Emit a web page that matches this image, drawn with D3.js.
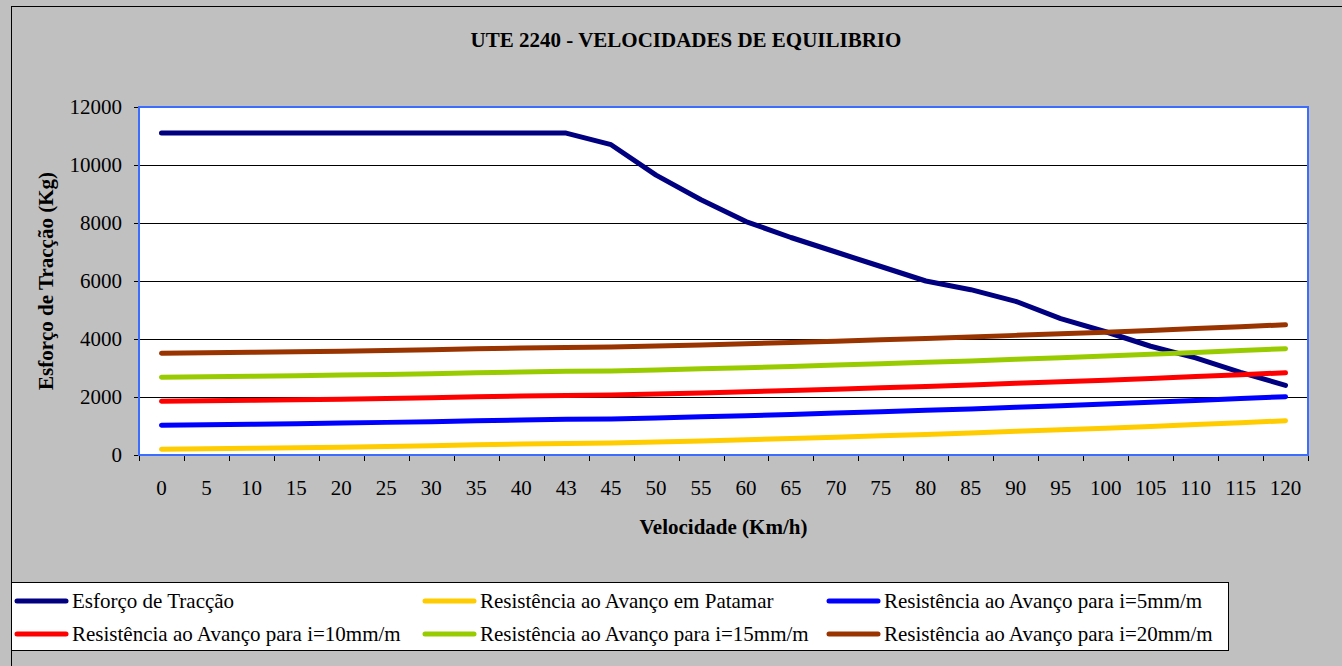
<!DOCTYPE html>
<html>
<head>
<meta charset="utf-8">
<script src="https://cdn.jsdelivr.net/npm/d3@7"></script>
<style>
  html, body { margin: 0; padding: 0; background: #c0c0c0; }
  svg { display: block; }
</style>
</head>
<body>
<svg id="chart" width="1342" height="666"></svg>
<script>
var TITLE = 'UTE 2240 - VELOCIDADES DE EQUILIBRIO';
var X_LABEL = 'Velocidade (Km/h)';
var Y_LABEL = 'Esforço de Tracção (Kg)';
var FONT = '"Liberation Serif", "Times New Roman", Times, "DejaVu Serif", serif';

var SPEEDS = ['0', '5', '10', '15', '20', '25', '30', '35', '40', '43', '45', '50', '55',
  '60', '65', '70', '75', '80', '85', '90', '95', '100', '105', '110', '115', '120'];
var Y_TICKS = [0, 2000, 4000, 6000, 8000, 10000, 12000];

var ESFORCO = [11100, 11100, 11100, 11100, 11100, 11100, 11100, 11100, 11100, 11100,
  10700, 9650, 8800, 8050, 7500, 7000, 6500, 6000, 5700, 5300, 4700, 4250, 3750, 3350, 2850, 2400];
var PATAMAR = [200, 215, 230, 250, 270, 295, 320, 350, 380, 400, 415, 450, 485,
  525, 570, 615, 660, 710, 760, 815, 870, 925, 985, 1050, 1115, 1180];
var I5 = [1030, 1045, 1060, 1080, 1100, 1125, 1150, 1180, 1210, 1230, 1245, 1280, 1315,
  1355, 1400, 1445, 1490, 1540, 1590, 1645, 1700, 1755, 1815, 1880, 1945, 2010];
var I10 = [1855, 1870, 1885, 1905, 1925, 1950, 1975, 2005, 2035, 2055, 2070, 2105, 2140,
  2180, 2225, 2270, 2315, 2365, 2415, 2470, 2525, 2580, 2640, 2705, 2770, 2835];
var I15 = [2685, 2700, 2715, 2735, 2755, 2780, 2805, 2835, 2865, 2885, 2900, 2935, 2970,
  3010, 3055, 3100, 3145, 3195, 3245, 3300, 3355, 3410, 3470, 3535, 3600, 3665];
var I20 = [3510, 3525, 3540, 3560, 3580, 3605, 3630, 3660, 3690, 3710, 3725, 3760, 3795,
  3835, 3880, 3925, 3970, 4020, 4070, 4125, 4180, 4235, 4295, 4360, 4425, 4490];

var SERIES_NAMES = ['Esforço de Tracção', 'Resistência ao Avanço em Patamar',
  'Resistência ao Avanço para i=5mm/m', 'Resistência ao Avanço para i=10mm/m',
  'Resistência ao Avanço para i=15mm/m', 'Resistência ao Avanço para i=20mm/m'];
var SERIES_VALUES = [ESFORCO, PATAMAR, I5, I10, I15, I20];
var SERIES_COLORS = ['#000080', '#ffcc00', '#0000ff', '#ff0000', '#99cc00', '#993300'];

var SVG = d3.select('#chart');

// ----- Frame ----------------------------------------------------------------
SVG.append('rect')
    .attr('x', 11.5).attr('y', 6.5)
    .attr('width', 1360).attr('height', 700)
    .attr('fill', '#c0c0c0')
    .attr('stroke', '#000').attr('stroke-width', 1);

SVG.append('text')
    .attr('x', 686).attr('y', 47)
    .attr('text-anchor', 'middle')
    .style('font-family', FONT).style('font-weight', 'bold')
    .style('font-size', '21px')
    .text(TITLE);

// ----- Plot area --------------------------------------------------------------
var plot = { left: 139, top: 107, right: 1308, bottom: 455 };

var x = d3.scaleBand().domain(SPEEDS).range([plot.left, plot.right]).padding(0);
var y = d3.scaleLinear().domain([0, 12000]).range([plot.bottom, plot.top]);

SVG.append('rect')
    .attr('x', plot.left).attr('y', plot.top)
    .attr('width', plot.right - plot.left).attr('height', plot.bottom - plot.top)
    .attr('fill', '#fff');

SVG.append('g')
    .selectAll('line')
    .data(Y_TICKS.slice(1, -1))
  .enter().append('line')
    .attr('x1', plot.left).attr('x2', plot.right)
    .attr('y1', (d) => Math.round(y(d)) + 0.5)
    .attr('y2', (d) => Math.round(y(d)) + 0.5)
    .attr('stroke', '#000').attr('stroke-width', 1);

// y axis
var yAxis = SVG.append('g')
    .attr('transform', 'translate(' + plot.left + ',0)')
    .call(d3.axisLeft(y).tickValues(Y_TICKS).tickFormat(d3.format('d'))
      .tickSizeInner(5).tickSizeOuter(0).tickPadding(12));
yAxis.attr('font-family', null).attr('font-size', null);
yAxis.select('.domain').remove();
yAxis.selectAll('text')
    .style('font-size', '21px').style('font-family', FONT).attr('fill', '#000');

// x axis: ticks between categories
var xAxisG = SVG.append('g');
var bounds = SPEEDS.map((d) => x(d)).concat([plot.right]);
xAxisG.selectAll('line')
    .data(bounds)
  .enter().append('line')
    .attr('x1', (d) => Math.round(d) + 0.5).attr('x2', (d) => Math.round(d) + 0.5)
    .attr('y1', plot.bottom).attr('y2', plot.bottom + 6)
    .attr('stroke', '#000');
xAxisG.selectAll('text')
    .data(SPEEDS)
  .enter().append('text')
    .attr('x', (d) => x(d) + x.bandwidth() / 2)
    .attr('y', 495)
    .attr('text-anchor', 'middle')
    .style('font-family', FONT)
    .style('font-size', '21px')
    .text((d) => d);

SVG.append('rect')
    .attr('x', plot.left).attr('y', plot.top)
    .attr('width', plot.right - plot.left).attr('height', plot.bottom - plot.top)
    .attr('fill', 'none')
    .attr('stroke', '#3d6dff').attr('stroke-width', 2);

// ----- Series -----------------------------------------------------------------
var line = d3.line()
    .x((d, i) => x(SPEEDS[i]) + x.bandwidth() / 2)
    .y((d) => y(d));

SVG.append('g')
    .selectAll('path')
    .data(SERIES_VALUES)
  .enter().append('path')
    .attr('d', line)
    .attr('fill', 'none')
    .attr('stroke', (d, i) => SERIES_COLORS[i])
    .attr('stroke-width', 5)
    .attr('stroke-linecap', 'round')
    .attr('stroke-linejoin', 'round');

// ----- Axis titles ------------------------------------------------------------
SVG.append('text')
    .attr('x', (plot.left + plot.right) / 2).attr('y', 534)
    .attr('text-anchor', 'middle')
    .style('font-family', FONT).style('font-weight', 'bold')
    .style('font-size', '21px')
    .text(X_LABEL);

SVG.append('text')
    .attr('transform', 'translate(53,' + ((plot.top + plot.bottom) / 2) + ') rotate(-90)')
    .attr('text-anchor', 'middle')
    .style('font-family', FONT).style('font-weight', 'bold')
    .style('font-size', '21px')
    .text(Y_LABEL);

// ----- Legend -----------------------------------------------------------------
SVG.append('rect')
    .attr('x', 11.5).attr('y', 582.5)
    .attr('width', 1217).attr('height', 68)
    .attr('fill', '#fff')
    .attr('stroke', '#000').attr('stroke-width', 1);

var colX = [15, 423, 827];
var rowY = [601, 634];

var items = SVG.append('g')
    .selectAll('g')
    .data(SERIES_NAMES)
  .enter().append('g')
    .attr('transform', (d, i) => 'translate(' + colX[i % 3] + ',' + rowY[Math.floor(i / 3)] + ')');

items.append('line')
    .attr('x1', 2).attr('x2', 51)
    .attr('y1', 0).attr('y2', 0)
    .attr('stroke', (d, i) => SERIES_COLORS[i])
    .attr('stroke-width', 5)
    .attr('stroke-linecap', 'round');

items.append('text')
    .attr('x', 57).attr('y', 7)
    .style('font-family', FONT)
    .style('font-size', '21px')
    .text((d) => d);
</script>
</body>
</html>
